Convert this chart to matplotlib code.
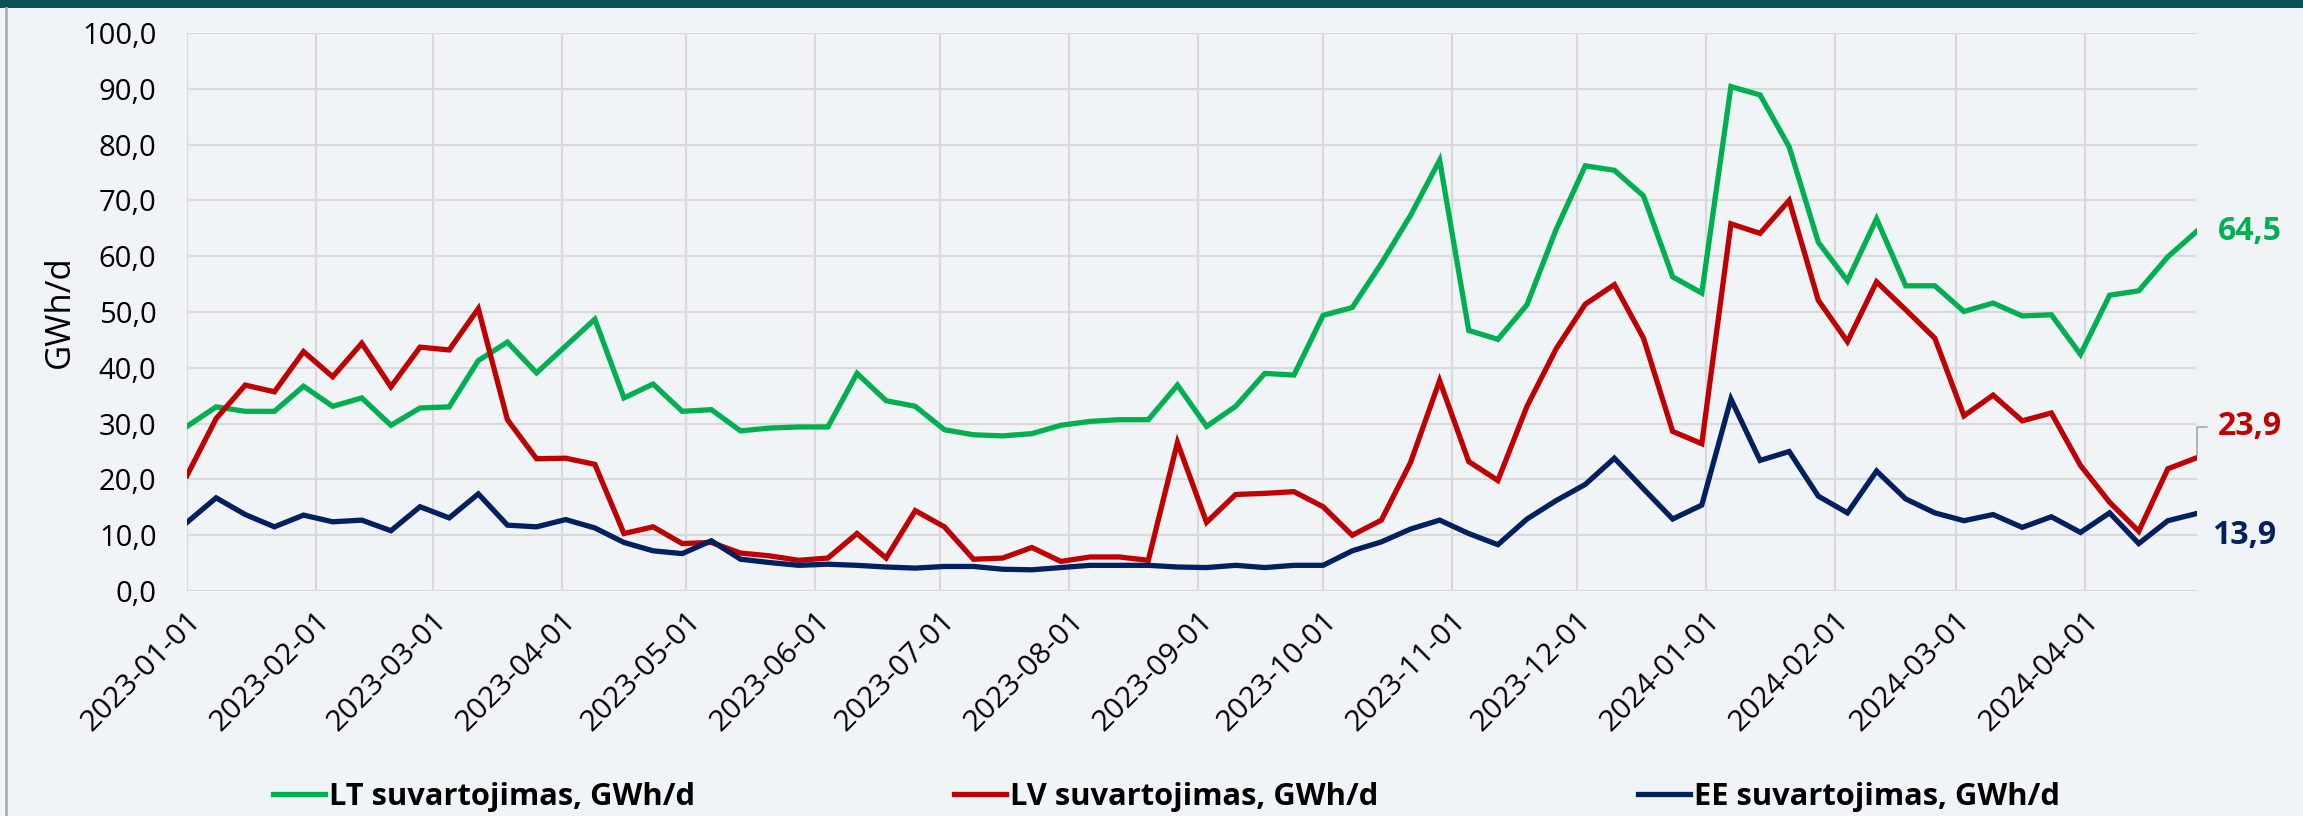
import datetime as dt
import matplotlib
matplotlib.use("Agg")
import matplotlib.pyplot as plt
import matplotlib.dates as mdates
import matplotlib.transforms as mtransforms
from matplotlib.ticker import FuncFormatter, MultipleLocator
from matplotlib.patches import Rectangle
from matplotlib.lines import Line2D

# weekly values, first week starts 2023-01-01
start = dt.date(2023, 1, 1)

lt = [29.5, 33.0, 32.2, 32.2, 36.7, 33.1, 34.6, 29.7, 32.8, 33.0,
      41.3, 44.6, 39.1, 43.9, 48.7, 34.6, 37.1, 32.2, 32.5, 28.7,
      29.2, 29.4, 29.4, 39.0, 34.1, 33.1, 28.9, 28.0, 27.8, 28.2,
      29.7, 30.4, 30.7, 30.7, 36.9, 29.5, 33.1, 39.0, 38.7, 49.4,
      50.8, 58.7, 67.3, 77.2, 46.7, 45.1, 51.3, 64.8, 76.2, 75.4,
      70.8, 56.3, 53.4, 90.4, 88.9, 79.6, 62.5, 55.6, 66.7, 54.7,
      54.7, 50.1, 51.6, 49.3, 49.5, 42.4, 53.0, 53.8, 59.9, 64.5]

lv = [20.7, 30.9, 36.9, 35.7, 42.9, 38.4, 44.4, 36.6, 43.7, 43.2,
      50.6, 30.7, 23.7, 23.8, 22.7, 10.3, 11.5, 8.5, 8.7, 6.8,
      6.3, 5.5, 5.9, 10.3, 5.9, 14.4, 11.5, 5.7, 5.9, 7.8,
      5.3, 6.1, 6.1, 5.5, 26.6, 12.3, 17.3, 17.5, 17.8, 15.1,
      10.0, 12.7, 23.0, 37.7, 23.2, 19.8, 33.1, 43.4, 51.4, 54.9,
      45.3, 28.6, 26.4, 65.8, 64.1, 70.0, 52.1, 44.7, 55.4, 50.4,
      45.3, 31.4, 35.1, 30.5, 31.9, 22.5, 15.9, 10.7, 21.9, 23.9]

ee = [12.3, 16.7, 13.7, 11.5, 13.6, 12.4, 12.7, 10.8, 15.1, 13.1,
      17.4, 11.8, 11.5, 12.8, 11.3, 8.7, 7.2, 6.7, 9.0, 5.7,
      5.1, 4.6, 4.8, 4.6, 4.3, 4.1, 4.4, 4.4, 3.9, 3.8,
      4.2, 4.6, 4.6, 4.6, 4.3, 4.2, 4.6, 4.2, 4.6, 4.6,
      7.2, 8.8, 11.1, 12.7, 10.3, 8.3, 12.9, 16.2, 19.1, 23.8,
      18.3, 12.9, 15.4, 34.4, 23.4, 25.0, 17.0, 14.0, 21.5, 16.5,
      14.0, 12.6, 13.7, 11.4, 13.3, 10.5, 14.0, 8.5, 12.6, 13.9]

dates = [start + dt.timedelta(days=7 * i) for i in range(len(lt))]

series = [
    ("LT suvartojimas, GWh/d", lt, "#00b050"),
    ("LV suvartojimas, GWh/d", lv, "#c00000"),
    ("EE suvartojimas, GWh/d", ee, "#002060"),
]

bg = "#f0f4f7"
plt.rcParams["font.family"] = ["Open Sans", "DejaVu Sans"]

fig = plt.figure(figsize=(23.03, 8.16), dpi=100, facecolor=bg)
ax = fig.add_axes([187 / 2303, 1 - 591 / 816, 2010 / 2303, 558 / 816])
ax.set_facecolor(bg)

for name, vals, col in series:
    ax.plot(dates, vals, color=col, lw=3.8, label=name, solid_joinstyle="miter")

ax.set_xlim(dates[0], dates[-1])
ax.set_ylim(0, 100)
ax.yaxis.set_major_locator(MultipleLocator(10))
ax.yaxis.set_major_formatter(FuncFormatter(lambda v, p: f"{v:.1f}".replace(".", ",")))
ax.xaxis.set_major_locator(mdates.MonthLocator())
ax.xaxis.set_major_formatter(mdates.DateFormatter("%Y-%m-%d"))
ax.grid(True, color="#d9d9d9", lw=1.6)
ax.set_axisbelow(True)
for s in ax.spines.values():
    s.set_visible(False)

ax.tick_params(axis="y", length=0, pad=22, labelsize=21, labelcolor="#000000")
ax.tick_params(axis="x", length=0, pad=18, labelsize=21.5, labelcolor="#000000")
shift = mtransforms.ScaledTranslation(0.1, 0, fig.dpi_scale_trans)
for lab in ax.get_xticklabels():
    lab.set_rotation(45)
    lab.set_ha("right")
    lab.set_va("center")
    lab.set_rotation_mode("anchor")
    lab.set_transform(lab.get_transform() + shift)

ax.set_ylabel("GWh/d", fontsize=25)
ax.yaxis.set_label_coords(-0.055, 0.5)

# end-of-line labels
last = dates[-1]
ax.annotate(f"{lt[-1]:.1f}".replace(".", ","), xy=(last, lt[-1]), xytext=(21, 0),
            textcoords="offset pixels", color="#00b050", fontsize=23,
            fontweight="bold", va="center", ha="left", annotation_clip=False)
ax.annotate(f"{lv[-1]:.1f}".replace(".", ","), xy=(last, lv[-1]), xytext=(21, 31),
            textcoords="offset pixels", color="#c00000", fontsize=23,
            fontweight="bold", va="center", ha="left", annotation_clip=False,
            arrowprops=dict(arrowstyle="-", color="#a6a6a6", lw=1.2,
                            connectionstyle="angle,angleA=0,angleB=90,rad=0",
                            shrinkA=6, shrinkB=2))
ax.annotate(f"{ee[-1]:.1f}".replace(".", ","), xy=(last, ee[-1]), xytext=(15, -22),
            textcoords="offset pixels", color="#002060", fontsize=23,
            fontweight="bold", va="center", ha="left", annotation_clip=False)

fig.legend(loc="center", bbox_to_anchor=(0.5064, 1 - 797 / 816), ncol=3,
           frameon=False, handlelength=1.7, handletextpad=0.12,
           columnspacing=8.4, prop={"size": 22.2, "weight": "bold"})

# frame decorations
fig.add_artist(Rectangle((0, 1 - 8 / 816), 1, 8 / 816, transform=fig.transFigure,
                         color="#0b4f59", lw=0))
fig.add_artist(Line2D([6 / 2303, 6 / 2303], [0, 1 - 8 / 816], transform=fig.transFigure,
                      color="#a8b0b8", lw=2))

fig.savefig("out.png", dpi=100, facecolor=bg)
